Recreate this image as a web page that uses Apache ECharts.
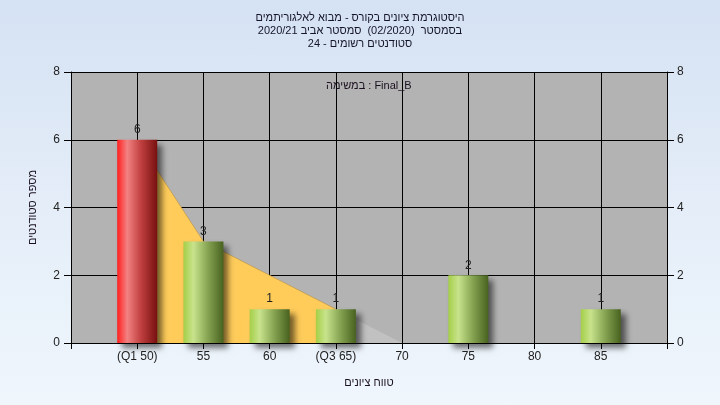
<!DOCTYPE html>
<html>
<head>
<meta charset="utf-8">
<script src="https://cdn.jsdelivr.net/npm/echarts@6/dist/echarts.min.js"></script>
<style>
  html, body { margin: 0; padding: 0; }
  #chart { width: 720px; height: 405px; background: linear-gradient(to bottom, #d5e2f3 0%, #e4edf8 50%, #eff6fc 100%); }
</style>
</head>
<body>
<div id="chart"></div>
<script>
// ---- data ----
var categories = [50, 55, 60, 65, 70, 75, 80, 85];
var tickLabels = ['(Q1 50)', '55', '60', '(Q3 65)', '70', '75', '80', '85'];
var counts = [6, 3, 1, 1, 0, 2, 0, 1];
var highlightIndex = 0; // red bar
var areaInner = [[50, 6], [55, 3], [60, 2], [65, 1]];
var areaOuter = [[65, 1], [70, 0], [75, 0], [80, 0], [85, 0]];

var titleLines = [
  'היסטוגרמת ציונים בקורס - מבוא לאלגוריתמים',
  'בסמסטר  (02/2020)  סמסטר אביב 2020/21',
  'סטודנטים רשומים - 24'
];
var subText = 'במשימה : Final_B';
var xName = 'טווח ציונים';
var yName = 'מספר סטודנטים';

var FONT = '"Liberation Sans", "DejaVu Sans", Arial, sans-serif';

function grad(stops) {
  return new echarts.graphic.LinearGradient(0, 0, 1, 0, stops);
}
var greenGrad = [
  {offset: 0, color: '#a4cf48'}, {offset: 0.25, color: '#c8e38c'},
  {offset: 0.6, color: '#87a553'}, {offset: 1, color: '#48621f'}
];
var redGrad = [
  {offset: 0, color: '#ff1e1e'}, {offset: 0.25, color: '#f38282'},
  {offset: 0.6, color: '#bf3e3e'}, {offset: 1, color: '#771010'}
];

var barData = categories.map(function (c, i) {
  return {
    value: [c, counts[i]],
    itemStyle: { color: grad(i === highlightIndex ? redGrad : greenGrad) },
    label: { show: counts[i] > 0 }
  };
});

var chart = echarts.init(document.getElementById('chart'), null, {renderer: 'canvas'});
chart.setOption({
  backgroundColor: 'transparent',
  animation: false,
  textStyle: { fontFamily: FONT },
  title: [{
    text: titleLines.join('\n'),
    left: 'center', top: 6,
    textStyle: { fontSize: 11, fontWeight: 'normal', color: '#15152a', lineHeight: 13, fontFamily: FONT }
  }, {
    text: subText,
    left: 321, top: 75,
    textStyle: { fontSize: 11, fontWeight: 'normal', color: '#1a1020', fontFamily: FONT }
  }],
  grid: { left: 71, right: 53, top: 72, bottom: 62 },
  xAxis: {
    type: 'value', min: 45, max: 90, interval: 5,
    name: xName, nameLocation: 'middle', nameGap: 34,
    nameTextStyle: { fontSize: 11, color: '#1a1020', fontFamily: FONT },
    axisLine: { show: true, lineStyle: { color: '#000', width: 1 } },
    axisTick: { show: true, length: 6, lineStyle: { color: '#000' } },
    axisLabel: {
      fontSize: 12, color: '#222', margin: 8, showMinLabel: true, showMaxLabel: true,
      formatter: function (v) {
        var i = categories.indexOf(v);
        return i >= 0 ? tickLabels[i] : '';
      }
    },
    splitLine: { show: true, lineStyle: { color: '#000', width: 1 } }
  },
  yAxis: [{
    type: 'value', min: 0, max: 8, interval: 2, position: 'left',
    name: yName, nameLocation: 'middle', nameGap: 33,
    nameTextStyle: { fontSize: 11, color: '#1a1020', fontFamily: FONT },
    axisLine: { show: true, lineStyle: { color: '#000', width: 1 } },
    axisTick: { show: true, length: 7, lineStyle: { color: '#000' } },
    axisLabel: { fontSize: 12, color: '#222', margin: 11 },
    splitLine: { show: true, lineStyle: { color: '#000', width: 1 } },
    splitArea: { show: true, areaStyle: { color: ['#b3b3b3', '#b3b3b3'] } }
  }, {
    type: 'value', min: 0, max: 8, interval: 2, position: 'right',
    axisLine: { show: true, lineStyle: { color: '#000', width: 1 } },
    axisTick: { show: true, length: 7, lineStyle: { color: '#000' } },
    axisLabel: { fontSize: 12, color: '#222', margin: 10 },
    splitLine: { show: false }
  }],
  series: [{
    type: 'line', data: areaOuter, symbol: 'none', z: 1,
    lineStyle: { width: 0 },
    areaStyle: { color: '#c1c1c1', opacity: 1 }
  }, {
    type: 'line', data: areaInner, symbol: 'none', z: 1,
    lineStyle: { width: 0.6, color: '#b89040' },
    areaStyle: { color: '#ffcc5a', opacity: 1 }
  }, {
    type: 'bar', data: barData, barWidth: 40, z: 3,
    itemStyle: {
      shadowColor: 'rgba(0,0,0,0.55)', shadowBlur: 6, shadowOffsetX: 5, shadowOffsetY: 5
    },
    label: {
      show: true, position: 'top', distance: 4,
      fontSize: 12, color: '#222', fontFamily: FONT,
      formatter: function (p) { return p.value[1]; }
    }
  }]
});
</script>
</body>
</html>
